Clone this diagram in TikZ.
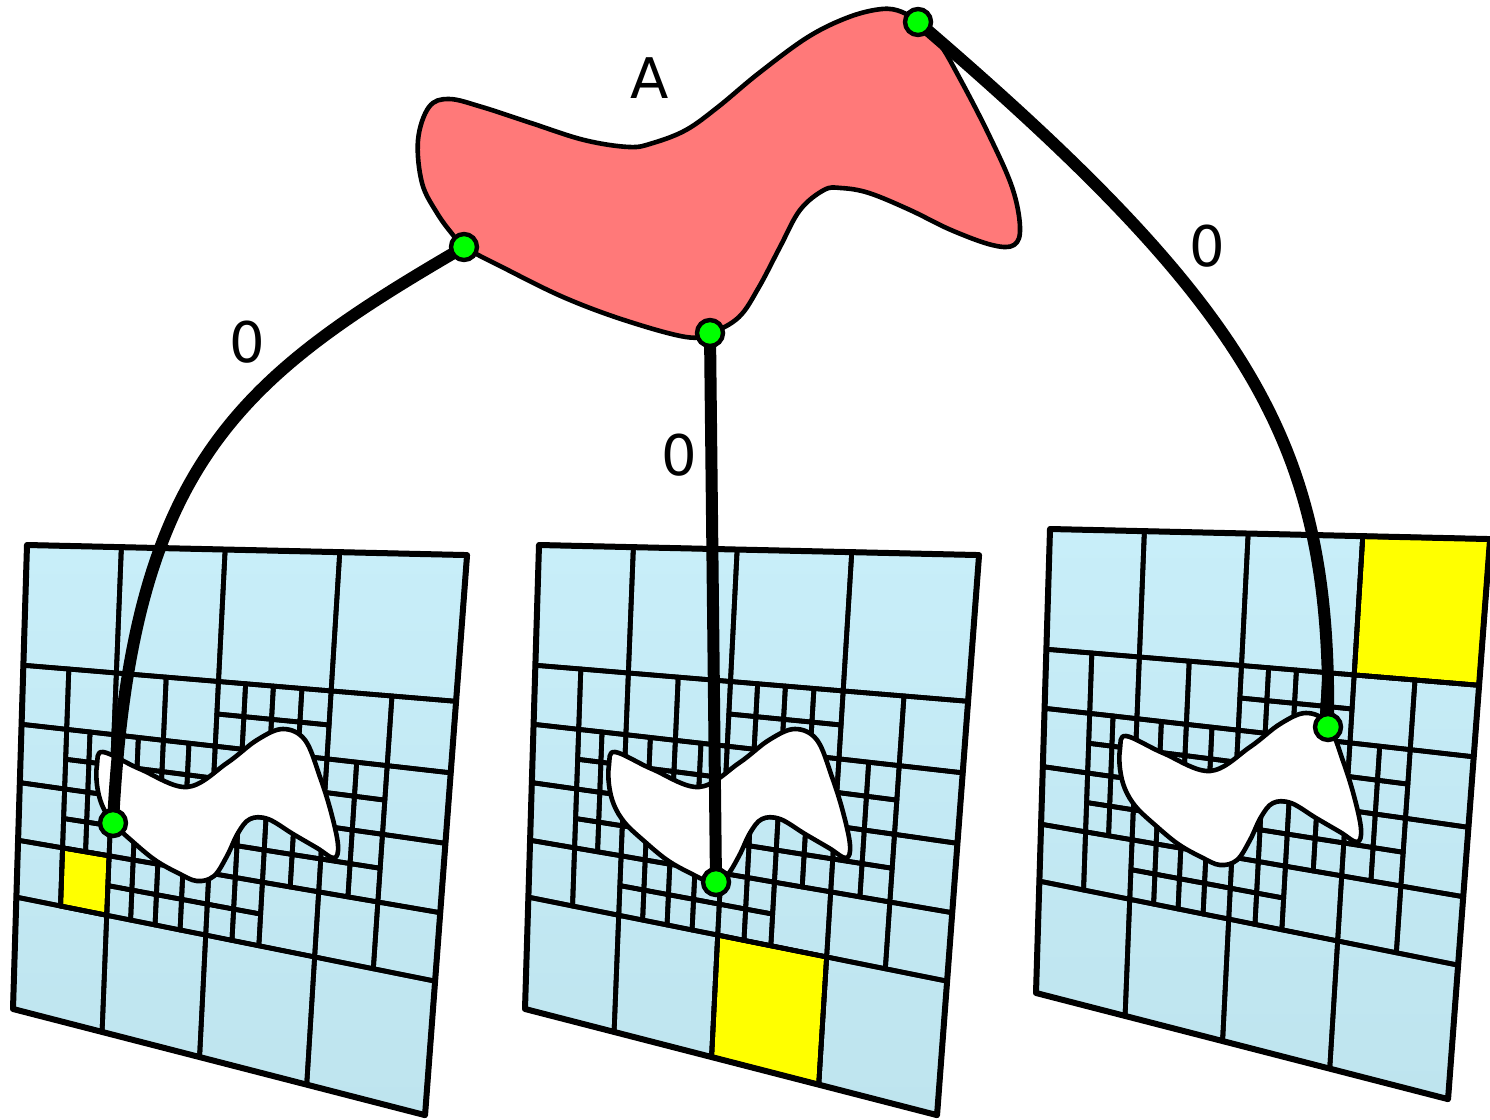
\documentclass[tikz,border=0pt]{standalone}
\usepackage{fontspec}
\setmainfont{DejaVu Sans}
\definecolor{pbtop}{RGB}{200,238,249}
\definecolor{pbbot}{RGB}{190,228,238}
\definecolor{redA}{RGB}{255,121,121}
\definecolor{dotgreen}{RGB}{0,255,0}
\definecolor{cellyellow}{RGB}{255,255,0}
\tikzset{
  declare function={
    hd(\uu,\vv)=1-0.01130025*\uu+0.00309563*\vv;
    hx(\uu,\vv)=(22.22278*\uu-0.834756*\vv+27)/hd(\uu,\vv);
    hy(\uu,\vv)=(-5.646625*\uu+32.1235*\vv+545)/hd(\uu,\vv);
  },
  gridline/.style={line width=4.8pt, line join=round, line cap=round},
  border/.style={line width=6pt, line join=round},
  blob/.style={fill=white, line width=4.6pt, line join=round},
  regionA/.style={fill=redA, line width=4.6pt, line join=round},
  conn/.style={line width=12pt, line cap=round},
  dot/.style={circle, draw, fill=dotgreen, line width=4.4pt, minimum size=26pt, inner sep=0pt},
  lbl/.style={font=\fontsize{56}{64}\selectfont, inner sep=0pt},
}
\newcommand\qcell[4][]{%
  \draw[gridline,#1] ({hx(#2,#3)},{hy(#2,#3)}) -- ({hx(#2+#4,#3)},{hy(#2+#4,#3)})
   -- ({hx(#2+#4,#3+#4)},{hy(#2+#4,#3+#4)}) -- ({hx(#2,#3+#4)},{hy(#2,#3+#4)}) -- cycle;}
\newcommand\panelgrid[3]{%
  \shade[top color=pbtop, bottom color=pbbot] ({hx(0,0)},{hy(0,0)}) -- ({hx(16,0)},{hy(16,0)})
    -- ({hx(16,16)},{hy(16,16)}) -- ({hx(0,16)},{hy(0,16)}) -- cycle;
  \qcell[fill=cellyellow]{#1}{#2}{#3}
  \foreach \ci/\cj/\cs in {0/0/4,4/0/4,8/0/4,12/0/4,0/12/4,4/12/4,8/12/4,12/12/4,
     0/4/2,2/4/2,4/4/2,6/4/2,12/4/2,14/4/2,0/6/2,14/6/2,0/8/2,14/8/2,
     0/10/2,2/10/2,10/10/2,12/10/2,14/10/2}{\qcell{\ci}{\cj}{\cs}}
  \foreach \bi/\bj in {8/4,10/4,2/6,4/6,6/6,8/6,10/6,12/6,2/8,4/8,6/8,8/8,10/8,12/8,4/10,6/10,8/10}{
    \foreach \di/\dj in {0/0,1/0,0/1,1/1}{\qcell{\bi+\di}{\bj+\dj}{1}}}
  \draw[border] ({hx(0,0)},{hy(0,0)}) -- ({hx(16,0)},{hy(16,0)})
    -- ({hx(16,16)},{hy(16,16)}) -- ({hx(0,16)},{hy(0,16)}) -- cycle;
  \filldraw[blob] plot[smooth cycle, tension=0.6] coordinates {
    (103,752) (140,769) (187,787) (227,763) (257,740) (283,729) (305,740) (320,777)
    (331,812) (338,845) (334,858) (317,848) (293,834) (268,819) (250,819) (238,833)
    (227,856) (214,876) (197,881) (178,873) (155,860) (132,841) (113,823) (102,805)
    (97,785) (97,765)};
}
\begin{document}
\begin{tikzpicture}[x=1pt,y=-1pt]
\useasboundingbox (0,0) rectangle (1490,1119);
% panels
\begin{scope}\panelgrid{2}{10}{2}\end{scope}
\begin{scope}[shift={(512,0)}]\panelgrid{8}{12}{4}\end{scope}
\begin{scope}[shift={(1023,-16)}]\panelgrid{12}{0}{4}\end{scope}
% region A
\filldraw[regionA] plot[smooth cycle, tension=0.6] coordinates {
  (449,99) (482,107) (531,123) (584,140) (629,147) (653,143) (686,130) (718,107)
  (759,73) (808,37) (849,17) (882,9) (902,12) (918,23) (939,43) (959,77) (988,133)
  (1012,187) (1020,227) (1014,245) (992,245) (951,230) (910,210) (869,193) (841,188)
  (824,190) (800,210) (780,247) (759,287) (739,317) (711,333) (686,337) (624,320)
  (563,297) (502,267) (464,247) (453,235) (437,213) (422,183) (418,140) (429,107)};
% end points
\coordinate (a1) at (464,247);
\coordinate (a2) at (710,333);
\coordinate (a3) at (918,22);
\coordinate (b1) at (113,823);
\coordinate (b2) at (716,882);
\coordinate (b3) at (1328,727);
% connectors
\draw[conn] (a1) .. controls (239,378) and (131,463) .. (b1);
\draw[conn] (a2) -- (b2);
\draw[conn] (a3) .. controls (1260,315) and (1332,450) .. (b3);
% dots
\node[dot] (da1) at (a1) {};
\node[dot] (da2) at (a2) {};
\node[dot] (da3) at (a3) {};
\node[dot] (db1) at (b1) {};
\node[dot] (db2) at (b2) {};
\node[dot] (db3) at (b3) {};
% labels
\node[lbl] (lA) at (650,78) {A};
\node[lbl] (l1) at (247,342) {0};
\node[lbl] (l2) at (679,455) {0};
\node[lbl] (l3) at (1207,246) {0};
\end{tikzpicture}
\end{document}
